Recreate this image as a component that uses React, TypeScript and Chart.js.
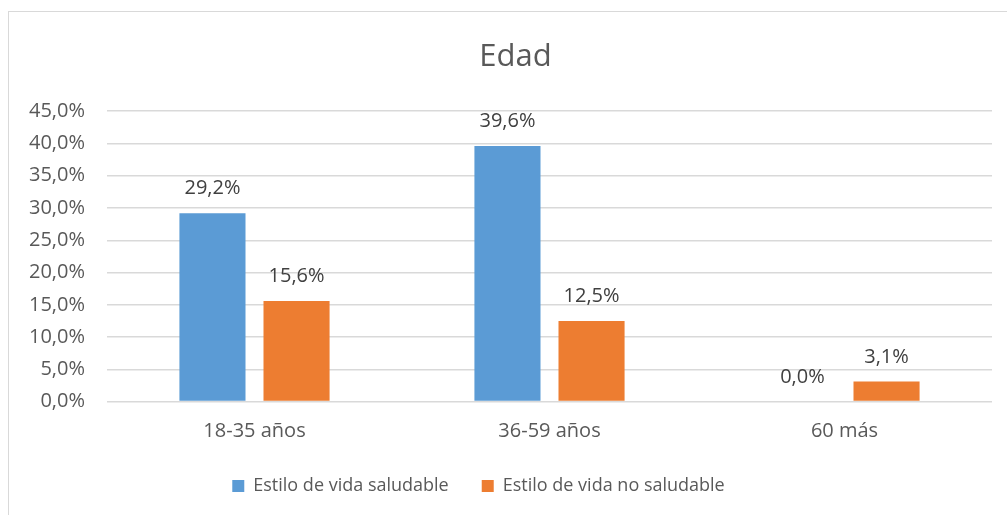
import React, { useEffect, useRef } from "react";
import { Chart, registerables } from "chart.js";

Chart.register(...registerables);

const categories = ["18-35 años", "36-59 años", "60 más"];
const saludable = [29.2, 39.6, 0.0];
const noSaludable = [15.6, 12.5, 3.1];
const seriesNames = ["Estilo de vida saludable", "Estilo de vida no saludable"];
const titleText = "Edad";

const FONT = "'Open Sans', 'Noto Sans', sans-serif";
const fmt = (v: number) => v.toFixed(1).replace(".", ",") + "%";

const valueLabels = {
  id: "valueLabels",
  afterDatasetsDraw(chart: any) {
    const ctx = chart.ctx;
    ctx.save();
    ctx.font = `20px ${FONT}`;
    ctx.fillStyle = "#404040";
    ctx.textAlign = "center";
    ctx.textBaseline = "alphabetic";
    chart.data.datasets.forEach((ds: any, i: number) => {
      const meta = chart.getDatasetMeta(i);
      meta.data.forEach((bar: any, j: number) => {
        ctx.fillText(fmt(ds.data[j]), bar.x, bar.y - 19);
      });
    });
    ctx.restore();
  },
};

const shiftBoxes = {
  id: "shiftBoxes",
  afterLayout(chart: any) {
    if (chart.titleBlock) {
      chart.titleBlock.left += 15;
      chart.titleBlock.right += 15;
    }
    if (chart.legend) {
      chart.legend.left -= 22;
      chart.legend.right -= 22;
    }
  },
};

export default function App() {
  const ref = useRef<HTMLCanvasElement>(null);
  useEffect(() => {
    const chart = new Chart(ref.current!, {
      type: "bar",
      data: {
        labels: categories,
        datasets: [
          { label: seriesNames[0], data: saludable, backgroundColor: "#5B9BD5" },
          { label: seriesNames[1], data: noSaludable, backgroundColor: "#ED7D31" },
        ],
      },
      options: {
        animation: false,
        responsive: false,
        devicePixelRatio: 1,
        layout: { padding: { left: 0, right: 15, top: 20, bottom: 10 } },
        datasets: { bar: { categoryPercentage: 0.57, barPercentage: 0.786 } },
        plugins: {
          title: {
            display: true,
            text: titleText,
            color: "#595959",
            font: { family: FONT, size: 31, weight: "normal" },
            padding: { top: 7, bottom: 35 },
          },
          legend: {
            position: "bottom",
            labels: {
              color: "#595959",
              font: { family: FONT, size: 18 },
              boxWidth: 12,
              boxHeight: 12,
              padding: 33,
            },
          },
          tooltip: { enabled: false },
        },
        scales: {
          x: {
            afterFit: (s: any) => {
              s.height = 42.4;
            },
            grid: { display: false, drawTicks: false },
            border: { display: false },
            ticks: { color: "#595959", font: { family: FONT, size: 20 }, padding: 18 },
          },
          y: {
            min: 0,
            max: 45,
            afterFit: (s: any) => {
              s.width = 98;
            },
            grid: { color: "#d9d9d9", lineWidth: 1.5, drawTicks: false },
            border: { display: false },
            ticks: {
              stepSize: 5,
              color: "#595959",
              font: { family: FONT, size: 20 },
              padding: 22,
              callback: (v: any) => fmt(Number(v)),
            },
          },
        },
      },
      plugins: [valueLabels, shiftBoxes],
    });
    return () => chart.destroy();
  }, []);
  return (
    <div
      style={{
        position: "fixed",
        left: 8,
        top: 11,
        width: 1000,
        height: 510,
        borderLeft: "1px solid #d9d9d9",
        borderTop: "1px solid #d9d9d9",
        background: "#fff",
      }}
    >
      <canvas ref={ref} width={998} height={503} style={{ display: "block" }} />
    </div>
  );
}
